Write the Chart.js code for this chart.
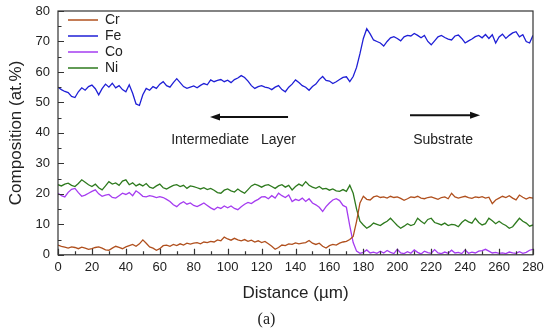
<!DOCTYPE html>
<html><head><meta charset="utf-8">
<script src="https://cdn.jsdelivr.net/npm/chart.js@4.4.1/dist/chart.umd.min.js"></script>
<style>html,body{margin:0;padding:0;background:#fff}#wrap{width:550px;height:331px}</style>
</head><body><div id="wrap"><canvas id="c" width="550" height="331"></canvas></div>
<script>
// Distance (µm) sample positions
const distance = [
  0,2,4,6,8,10,12,14,16,18,
  20,22,24,26,28,30,32,34,36,38,
  40,42,44,46,48,50,52,54,56,58,
  60,62,64,66,68,70,72,74,76,78,
  80,82,84,86,88,90,92,94,96,98,
  100,102,104,106,108,110,112,114,116,118,
  120,122,124,126,128,130,132,134,136,138,
  140,142,144,146,148,150,152,154,156,158,
  160,162,164,166,168,170,172,174,176,178,
  180,182,184,186,188,190,192,194,196,198,
  200,202,204,206,208,210,212,214,216,218,
  220,222,224,226,228,230,232,234,236,238,
  240,242,244,246,248,250,252,254,256,258,
  260,262,264,266,268,270,272,274,276,278,
  280
];
const seriesNames = ['Cr','Fe','Co','Ni'];
const cr = [
  3.2,2.8,2.5,2.2,2.6,2.4,2.0,2.5,2.2,1.8,
  2.0,2.4,2.6,2.2,1.6,1.5,2.2,2.8,2.4,2.0,
  2.6,3.0,3.4,2.8,3.6,4.9,3.8,2.6,2.2,1.5,
  2.0,3.0,3.2,2.8,3.4,3.0,3.6,3.2,3.8,3.5,
  3.8,4.0,3.6,4.2,4.0,4.4,4.2,4.9,4.6,5.8,
  5.2,4.8,5.4,4.9,4.6,5.0,4.4,4.8,4.2,4.6,
  4.0,4.4,3.6,2.8,1.8,2.4,3.2,3.0,3.6,3.4,
  3.9,3.6,3.8,4.0,4.7,3.8,3.4,3.8,2.8,2.2,
  3.0,3.4,3.2,3.8,4.2,4.4,5.0,6.0,11.0,17.0,
  19.2,18.2,18.0,19.0,19.3,18.8,19.0,18.6,19.2,18.8,
  19.0,18.5,17.9,18.4,19.0,18.8,19.2,18.6,18.4,18.8,
  19.0,18.6,18.2,18.8,19.0,18.4,20.2,19.0,18.6,18.9,
  19.2,18.8,18.5,19.0,18.8,19.1,18.6,18.9,16.8,18.0,
  18.6,19.2,18.8,19.4,18.6,18.0,19.6,18.9,18.3,18.8,
  18.6
];
const fe = [
  55.0,54.2,53.6,53.2,52.0,51.6,53.5,54.8,54.0,55.2,
  55.7,54.5,52.5,54.5,56.0,55.0,56.3,54.8,55.5,54.2,
  53.5,55.8,53.0,49.5,49.0,52.5,54.6,54.0,55.2,54.6,
  56.0,56.8,55.5,55.0,56.5,57.8,56.5,55.2,54.6,55.0,
  55.4,54.8,55.6,56.2,55.8,57.4,56.8,57.2,57.5,56.8,
  57.3,56.5,57.5,58.0,58.8,58.2,57.0,55.5,54.6,55.2,
  55.5,55.0,54.8,54.2,55.0,55.5,54.2,53.5,55.0,56.0,
  57.4,56.5,55.5,55.0,54.0,55.2,56.0,57.5,58.5,57.2,
  57.0,56.2,56.8,57.5,58.2,58.4,56.8,58.5,61.5,66.0,
  71.0,74.2,72.5,70.5,70.0,69.5,68.5,70.0,71.2,71.6,
  71.0,70.2,71.5,72.0,71.8,72.6,72.0,71.2,72.0,70.0,
  68.9,70.2,71.5,72.0,71.3,70.8,70.5,71.8,72.1,71.0,
  69.5,70.2,70.8,71.6,72.0,71.2,72.3,71.0,72.2,69.5,
  71.5,72.4,71.0,72.0,72.8,73.2,71.5,72.2,70.0,69.5,
  72.0
];
const co = [
  20.2,19.4,19.0,20.5,21.5,21.8,20.4,19.2,19.6,20.2,
  20.8,21.3,20.0,19.2,19.6,19.8,18.8,18.6,19.4,20.2,
  19.8,20.4,19.4,21.0,20.2,19.2,19.0,19.4,19.2,18.8,
  19.1,18.8,18.2,17.5,16.4,15.8,16.8,17.4,16.6,17.0,
  16.2,15.8,16.4,17.0,16.2,15.4,14.8,15.6,15.2,16.0,
  15.4,16.0,15.2,14.8,15.8,16.6,17.2,16.8,17.6,18.2,
  19.0,19.1,18.4,19.4,18.6,20.2,19.4,18.8,19.6,17.5,
  18.2,17.8,18.6,17.5,18.4,17.0,16.4,15.6,14.2,15.8,
  17.0,18.0,18.4,17.8,16.2,15.6,9.5,4.0,1.2,0.5,
  0.8,1.6,0.6,0.9,0.5,1.2,0.6,1.4,0.8,0.4,
  1.8,0.6,0.4,1.0,0.5,1.6,0.8,0.3,1.2,0.7,
  0.5,1.7,0.6,0.4,0.9,0.5,1.5,0.6,0.8,0.4,
  1.6,0.5,0.9,0.6,1.2,1.4,1.8,1.2,0.6,0.8,
  0.5,0.6,0.4,0.9,0.6,0.5,1.0,0.5,0.8,1.5,
  1.8
];
const ni = [
  23.0,22.6,23.2,23.5,22.8,22.4,23.4,24.6,23.8,23.0,
  22.4,23.2,22.0,21.3,22.6,24.0,23.2,23.6,22.8,24.2,
  24.6,23.0,23.6,22.6,23.2,22.6,23.4,22.2,21.8,22.6,
  23.2,22.0,21.6,22.2,22.8,23.0,22.4,22.8,21.8,22.6,
  22.4,22.0,21.6,22.0,21.4,21.8,21.2,20.4,20.2,21.2,
  21.6,21.0,20.6,21.6,20.8,20.2,21.4,22.6,23.2,22.8,
  22.2,22.8,23.0,22.4,21.8,22.6,23.0,22.2,22.8,21.3,
  22.4,23.2,22.6,24.0,22.8,22.2,21.8,22.4,21.6,21.8,
  21.2,21.6,21.0,20.8,21.4,20.8,22.8,20.2,15.0,11.0,
  9.8,8.7,9.4,10.4,10.0,9.6,10.4,11.0,12.0,10.8,
  9.6,8.7,9.4,10.2,9.6,10.0,12.0,11.0,10.2,11.6,
  12.0,10.6,10.2,9.8,10.4,9.6,10.0,9.8,9.2,10.6,
  11.5,10.8,10.4,12.0,10.6,9.8,10.2,12.0,11.2,10.2,
  11.0,10.2,9.6,8.7,9.2,10.6,12.0,11.0,10.4,9.4,
  9.8
];
const xMin = 0, xMax = 280, xMajor = 20, xMinor = 10;
const yMin = 0, yMax = 80, yMajor = 10, yMinor = 5;

const colors = ['#b0501e','#1f1fd6','#a53cf0','#2e7a1e'];
const values = [cr, fe, co, ni];

const notes = {
  arrows: [{from:135.6, to:89.6, y:45.2}, {from:207.5, to:248.8, y:45.8}],
  texts: [{text:'Intermediate Layer', x:103.5, y:37.6}, {text:'Substrate', x:227, y:37.6}]
};

const FONT = "'Liberation Sans', Arial, sans-serif";

const framePlugin = {
  id: 'frame',
  afterLayout(chart) {
    const lg = chart.legend, a = chart.chartArea;
    if (lg) { lg.left = a.left + 8; lg.top = a.top; lg.bottom = a.bottom; }
  },
  afterDatasetsDraw(chart) {
    const {ctx, chartArea: a, scales: {x, y}} = chart;
    ctx.save();
    ctx.strokeStyle = '#333';
    ctx.lineWidth = 1.2;
    ctx.strokeRect(a.left, a.top, a.right - a.left, a.bottom - a.top);
    ctx.beginPath();
    for (let v = xMin; v <= xMax; v += xMinor) {
      const p = Math.round(x.getPixelForValue(v)) + 0.5;
      const L = (v % xMajor === 0) ? 6 : 3.5;
      ctx.moveTo(p, a.bottom); ctx.lineTo(p, a.bottom - L);
    }
    for (let v = yMin; v <= yMax; v += yMinor) {
      const p = Math.round(y.getPixelForValue(v)) + 0.5;
      const L = (v % yMajor === 0) ? 6 : 3.5;
      ctx.moveTo(a.left, p); ctx.lineTo(a.left + L, p);
    }
    ctx.stroke();
    // annotations
    ctx.strokeStyle = '#111'; ctx.fillStyle = '#111'; ctx.lineWidth = 2;
    notes.arrows.forEach(ar => {
      const x1 = x.getPixelForValue(ar.from), x2 = x.getPixelForValue(ar.to), yy = y.getPixelForValue(ar.y);
      const dir = Math.sign(x2 - x1);
      ctx.beginPath(); ctx.moveTo(x1, yy); ctx.lineTo(x2 - dir * 8, yy); ctx.stroke();
      ctx.beginPath(); ctx.moveTo(x2, yy); ctx.lineTo(x2 - dir * 10, yy - 3.5); ctx.lineTo(x2 - dir * 10, yy + 3.5); ctx.closePath(); ctx.fill();
    });
    ctx.font = '14px ' + FONT; ctx.textAlign = 'center'; ctx.textBaseline = 'middle'; ctx.fillStyle = '#222';
    notes.texts.forEach(t => {
      const parts = t.text.split(' ');
      const cx = x.getPixelForValue(t.x), cy = y.getPixelForValue(t.y);
      if (parts.length === 2) {
        // wider word gap as in the original figure
        const gap = 12;
        const w0 = ctx.measureText(parts[0]).width, w1 = ctx.measureText(parts[1]).width;
        const total = w0 + gap + w1;
        ctx.textAlign = 'left';
        ctx.fillText(parts[0], cx - total / 2, cy);
        ctx.fillText(parts[1], cx - total / 2 + w0 + gap, cy);
        ctx.textAlign = 'center';
      } else {
        ctx.fillText(t.text, cx, cy);
      }
    });
    ctx.restore();
  }
};

new Chart(document.getElementById('c'), {
  type: 'line',
  data: {
    datasets: seriesNames.map((n, k) => ({
      label: n,
      data: distance.map((d, i) => ({x: d, y: values[k][i]})),
      borderColor: colors[k],
      backgroundColor: colors[k],
      borderWidth: 1.3,
      pointRadius: 0,
      tension: 0,
      fill: false
    }))
  },
  options: {
    responsive: false,
    devicePixelRatio: 1,
    animation: false,
    layout: {padding: {left: 0, right: 17, top: 11, bottom: 0}},
    plugins: {
      legend: {
        position: 'chartArea',
        align: 'start',
        labels: {
          usePointStyle: true, pointStyle: 'line', pointStyleWidth: 30,
          font: {family: FONT, size: 14}, color: '#222', padding: 2
        }
      },
      title: {
        display: true, text: '(a)', position: 'bottom',
        font: {family: "'Liberation Serif', 'DejaVu Serif', serif", size: 16, weight: 'normal'},
        color: '#222', padding: {top: 0, bottom: 2}
      },
      tooltip: {enabled: false}
    },
    scales: {
      x: {
        type: 'linear', min: xMin, max: xMax,
        afterFit: s => { s.height = 55; s.paddingLeft = 0; s.paddingRight = 0; },
        ticks: {stepSize: xMajor, autoSkip: false, maxRotation: 0, padding: 5, color: '#222', font: {family: FONT, size: 13}},
        grid: {display: false, drawTicks: false},
        border: {display: false},
        title: {display: true, text: 'Distance (µm)', color: '#222', font: {family: FONT, size: 17}, padding: {top: 0, bottom: 6}}
      },
      y: {
        type: 'linear', min: yMin, max: yMax,
        afterFit: s => { s.width = 58; s.paddingTop = 0; s.paddingBottom = 0; },
        ticks: {stepSize: yMajor, padding: 8, color: '#222', font: {family: FONT, size: 13}},
        grid: {display: false, drawTicks: false},
        border: {display: false},
        title: {display: true, text: 'Composition (at.%)', color: '#222', font: {family: FONT, size: 17}, padding: {top: 6, bottom: 0}}
      }
    }
  },
  plugins: [framePlugin]
});
</script>
</body></html>
